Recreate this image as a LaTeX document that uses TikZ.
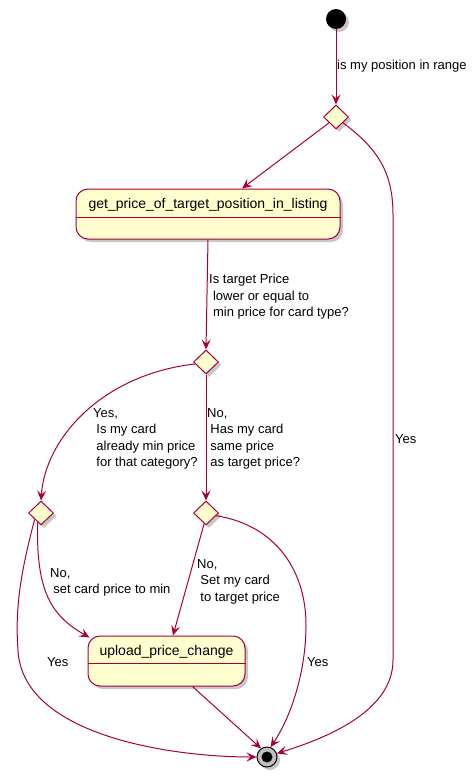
\documentclass[tikz,border=0pt]{standalone}
\usepackage{fontspec}
\setmainfont{Liberation Sans}
\usetikzlibrary{shapes.geometric,shadows,arrows.meta,calc}
\definecolor{pline}{HTML}{A80036}
\definecolor{pfill}{HTML}{FEFECE}
\begin{document}
\begin{tikzpicture}[x=1pt,y=-1pt,
  shad/.style={drop shadow={shadow xshift=3pt,shadow yshift=-3pt,fill=black!40,opacity=0.55}},
  dec/.style={diamond,draw=pline,fill=pfill,line width=1pt,minimum width=25pt,minimum height=24pt,inner sep=0pt,shad},
  act/.style={draw=pline,fill=pfill,line width=1pt,rounded corners=12pt,shad},
  sep/.style={draw=pline,line width=1pt},
  arr/.style={draw=pline,line width=1pt,-{Stealth[length=10pt,width=9pt,inset=4pt]}},
  lbl/.style={font=\fontsize{13}{16.5}\selectfont,align=left,anchor=north west,inner sep=0pt},
  ttl/.style={font=\fontsize{14}{17}\selectfont,inner sep=0pt},
]
\useasboundingbox (0,0) rectangle (475,778);
% nodes
\node[circle,fill=black,minimum size=20pt,inner sep=0pt,shad] (s) at (336,19) {};
\node[dec] (d1) at (336,117) {};
\node[act,minimum width=264pt,minimum height=50pt] (b1) at (208,214) {};
\draw[sep] ($(b1.west)+(0,3)$) -- ($(b1.east)+(0,3)$);
\node[ttl] (b1t) at (208,205) {get\_price\_of\_target\_position\_in\_listing};
\node[dec] (d2) at (206,362) {};
\node[dec] (d3) at (41,513) {};
\node[dec] (d4) at (206,513) {};
\node[act,minimum width=157pt,minimum height=50pt] (ub) at (166.5,661) {};
\draw[sep] ($(ub.west)+(0,2)$) -- ($(ub.east)+(0,2)$);
\node[ttl] (ubt) at (166.5,652) {upload\_price\_change};
\node[circle,draw=black,fill=black!25,line width=1pt,minimum size=20pt,inner sep=0pt,shad] (e) at (267,757) {};
\node[circle,fill=black,minimum size=11pt,inner sep=0pt] (ei) at (e) {};
% connectors
\draw[arr] (s) -- (d1);
\draw[arr] (d1.-140) -- ($(b1.north)+(34,0)$);
\draw[arr] (d1.-40) .. controls (380,150) and (393,175) .. (393,215) -- (393,660) .. controls (393,710) and (330,737) .. (e.20);
\draw[arr] (b1.south) -- (d2.north);
\draw[arr] (d2.-170) .. controls (100,375) and (45,440) .. (d3.north);
\draw[arr] (d2.south) -- (d4.north);
\draw[arr] (d3.-110) .. controls (36,590) and (50,615) .. ($(ub.north west)+(2,2)$);
\draw[arr] (d3.-135) .. controls (20,575) and (15,610) .. (18,650) .. controls (22,735) and (170,757) .. (e.180);
\draw[arr] (d4.-100) -- ($(ub.north)+(6.5,0)$);
\draw[arr] (d4.-15) .. controls (275,525) and (306,570) .. (306,625) .. controls (306,670) and (292,715) .. (e.70);
\draw[arr] ($(ub.south)+(26,0)$) -- (e.125);
% labels
\node[lbl] (l1) at (337,60) {is my position in range};
\node[lbl] (l2) at (209,274) {Is target Price\\\hspace*{0.3em}lower or equal to\\\hspace*{0.3em}min price for card type?};
\node[lbl] (l3) at (93,408) {Yes,\\\hspace*{0.25em}Is my card\\\hspace*{0.25em}already min price\\\hspace*{0.25em}for that category?};
\node[lbl] (l4) at (207,408) {No,\\\hspace*{0.25em}Has my card\\\hspace*{0.25em}same price\\\hspace*{0.25em}as target price?};
\node[lbl] (l5) at (395,434) {Yes};
\node[lbl] (l6) at (50,568) {No,\\\hspace*{0.25em}set card price to min};
\node[lbl] (l7) at (197,559) {No,\\\hspace*{0.25em}Set my card\\\hspace*{0.25em}to target price};
\node[lbl] (l8) at (47,657) {Yes};
\node[lbl] (l9) at (307,657) {Yes};
\end{tikzpicture}
\end{document}
